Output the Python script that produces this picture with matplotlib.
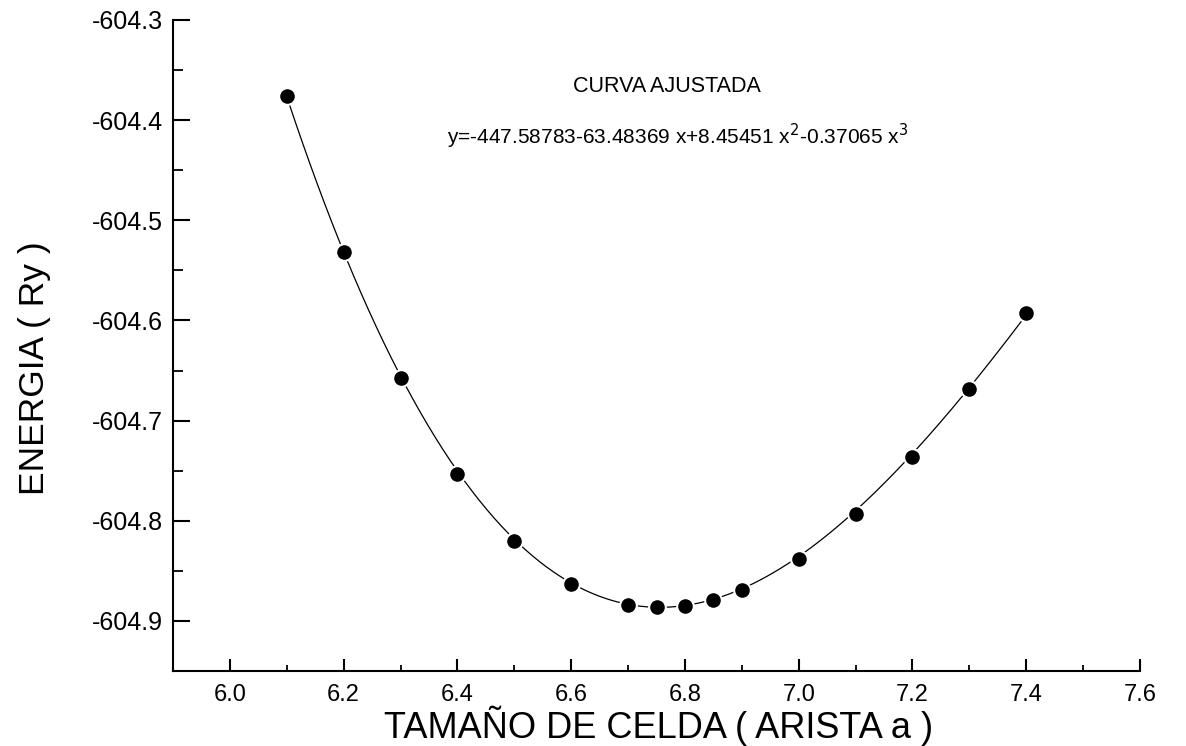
import numpy as np
import matplotlib
matplotlib.use('Agg')
import matplotlib.pyplot as plt
from matplotlib.ticker import MultipleLocator, FormatStrFormatter

plt.rcParams['font.family'] = ['Liberation Sans', 'DejaVu Sans']

# cell size (edge a) and total energy in Ry
arista = [6.1, 6.2, 6.3, 6.4, 6.5, 6.6, 6.7, 6.75, 6.8, 6.85, 6.9, 7.0, 7.1, 7.2, 7.3, 7.4]
energia = [-604.376, -604.532, -604.657, -604.753, -604.820, -604.863, -604.884, -604.886,
           -604.885, -604.879, -604.869, -604.838, -604.793, -604.736, -604.668, -604.593]

# cubic fit coefficients, constant term first
coef = [-447.58783, -63.48369, 8.45451, -0.37065]

fig = plt.figure(figsize=(11.86, 7.46), dpi=100)
ax = fig.add_axes([0.1459, 0.1005, 0.8153, 0.8727])

xf = np.linspace(arista[0], arista[-1], 300)
yf = np.polynomial.polynomial.polyval(xf, coef)
ax.plot(xf, yf, color='black', lw=0.9, zorder=2)
ax.plot(arista, energia, 'o', color='black', ms=12, mec='white', mew=1.5, zorder=3)

ax.set_xlim(5.9, 7.6)
ax.set_ylim(-604.95, -604.3)
ax.xaxis.set_major_locator(MultipleLocator(0.2))
ax.xaxis.set_minor_locator(MultipleLocator(0.1))
ax.yaxis.set_major_locator(MultipleLocator(0.1))
ax.yaxis.set_minor_locator(MultipleLocator(0.05))
ax.xaxis.set_major_formatter(FormatStrFormatter('%.1f'))
ax.yaxis.set_major_formatter(FormatStrFormatter('%.1f'))

for s in ['top', 'right']:
    ax.spines[s].set_visible(False)
for s in ['left', 'bottom']:
    ax.spines[s].set_linewidth(1.5)

ax.tick_params(axis='y', which='major', direction='in', length=12, width=1.5,
               labelsize=18, pad=7)
ax.tick_params(axis='y', which='minor', direction='in', length=7.5, width=1.3)
ax.tick_params(axis='x', which='major', direction='in', length=8.5, width=1.5,
               labelsize=17, pad=9)
ax.tick_params(axis='x', which='minor', direction='in', length=4.5, width=1.3)

fig.text(0.0295, 0.507, 'ENERGIA ( Ry )', rotation=90, fontsize=25.5,
         ha='center', va='center')
fig.text(0.555, 0.027, 'TAMAÑO DE CELDA ( ARISTA a )', fontsize=26,
         ha='center', va='center')

fig.text(0.562, 0.884, 'CURVA AJUSTADA', fontsize=15.5, ha='center', va='center')
fig.text(0.571, 0.817, r'y=-447.58783-63.48369 x+8.45451 x$^2$-0.37065 x$^3$',
         fontsize=15, ha='center', va='center')

plt.savefig('out.png', dpi=100)
